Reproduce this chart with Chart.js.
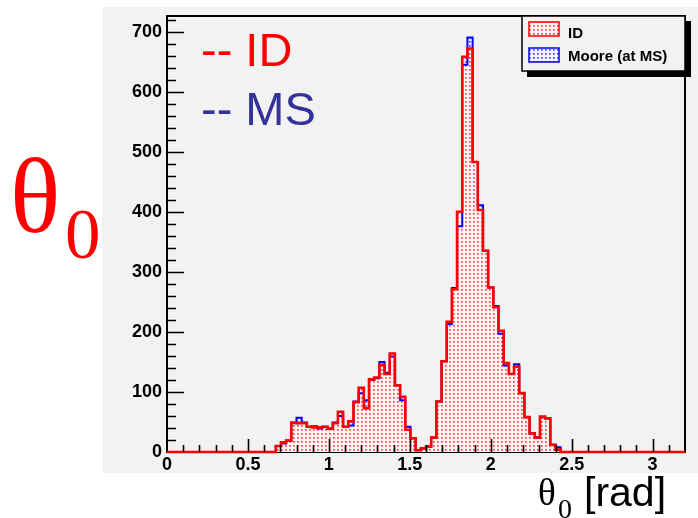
<!DOCTYPE html>
<html>
<head>
<meta charset="utf-8">
<script src="https://cdn.jsdelivr.net/npm/chart.js@4.4.1/dist/chart.umd.min.js"></script>
<style>
body { margin: 0; background: #fff; }
#wrap { position: relative; width: 698px; height: 518px; overflow: hidden; }
#chart { position: absolute; left: 0; top: 0; }
.t { position: absolute; white-space: nowrap; line-height: 1; }
.sans { font-family: "Liberation Sans", Arial, sans-serif; }
.serif { font-family: "Liberation Serif", "Times New Roman", serif; }
</style>
</head>
<body>
<div id="wrap">
<canvas id="chart" width="698" height="518"></canvas>
<div class="t sans" style="left:201px;top:25.7px;font-size:47px;color:#ff0000">-- ID</div>
<div class="t sans" style="left:201px;top:85.2px;font-size:47px;color:#333399">-- MS</div>
<div class="t serif" style="left:10px;top:144px;font-size:105px;color:#ff0000">θ</div>
<div class="t serif" style="left:65px;top:198.5px;font-size:71px;color:#ff0000">0</div>
<div class="t serif" style="left:538px;top:474px;font-size:37px;color:#000">θ</div>
<div class="t serif" style="left:558px;top:495px;font-size:28px;color:#000">0</div>
<div class="t sans" style="left:584px;top:471.5px;font-size:41px;color:#000">[rad]</div>
</div>
<script>
// histogram: 100 bins on [0, 3.2], only the non-empty ones listed
const xRange = [0, 3.2];
const binWidth = 0.032;
const firstEdge = 0.672;
const yMax = 726;

const idCounts = [10, 16, 19, 49, 48, 48, 42, 41, 41, 42, 39, 48, 67, 42, 51,
	83, 107, 73, 121, 124, 145, 130, 164, 111, 92, 37, 23, 3, 6, 9,
	24, 84, 151, 217, 271, 400, 658, 672, 483, 403, 335, 274, 241, 202, 148,
	130, 142, 98, 58, 31, 24, 59, 56, 12, 4];
const msCounts = [10, 14, 19, 48, 57, 49, 42, 43, 39, 42, 39, 49, 60, 42, 44,
	84, 98, 86, 120, 123, 150, 132, 159, 111, 86, 42, 23, 3, 6, 9,
	24, 84, 151, 213, 273, 376, 645, 690, 483, 411, 335, 274, 243, 197, 144,
	130, 146, 98, 58, 31, 24, 58, 56, 12, 8];

const labels = ["ID", "Moore (at MS)"];

function steps(counts)
{
	const pts = [{x: xRange[0], y: 0}];
	counts.forEach((c, i) => pts.push({x: firstEdge + i * binWidth, y: c}));
	pts.push({x: firstEdge + counts.length * binWidth, y: 0});
	pts.push({x: xRange[1], y: 0});
	return pts;
}

const canvas = document.getElementById("chart");
const ctx = canvas.getContext("2d");

// ROOT-like dotted fill: pale background, small soft dot every 4 px
function dots(dot, soft, paper)
{
	const c = document.createElement("canvas");
	c.width = c.height = 4;
	const g = c.getContext("2d");
	g.fillStyle = paper;
	g.fillRect(0, 0, 4, 4);
	g.fillStyle = soft;
	g.fillRect(1, 1, 2, 2);
	g.fillStyle = dot;
	g.fillRect(1, 1, 1, 1);
	return ctx.createPattern(c, "repeat");
}

const redDots = dots("#ff3030", "#ff8c8c", "#fff3f3");
const blueDots = dots("#3030ff", "#8c8cff", "#f3f3ff");

const tickFont = {family: "'Liberation Sans', Arial, sans-serif", size: 18, weight: "bold"};

const frame = {
	id: "frame",
	beforeDraw(chart)
	{
		const c = chart.ctx, a = chart.chartArea;
		c.save();
		c.fillStyle = "#f2f2f2";
		c.fillRect(102, 7, 596, 466);
		c.strokeStyle = "#000";
		c.lineWidth = 2;
		c.strokeRect(a.left, a.top, a.right - a.left, a.bottom - a.top);
		c.restore();
	},
	afterDatasetsDraw(chart)
	{
		const c = chart.ctx, a = chart.chartArea;
		const {x, y} = chart.scales;
		c.save();
		c.strokeStyle = "#000";
		c.lineWidth = 1.6;
		c.beginPath();
		x.ticks.forEach(t => {
			if (t.value <= xRange[0] || t.value >= xRange[1])
				return;
			const px = Math.round(x.getPixelForValue(t.value)) + 0.5;
			const major = Math.abs(t.value * 2 - Math.round(t.value * 2)) < 1e-6;
			c.moveTo(px, a.bottom);
			c.lineTo(px, a.bottom - (major ? 13 : 7));
		});
		for (let v = 20; v < yMax; v += 20)
		{
			const py = Math.round(y.getPixelForValue(v)) + 0.5;
			c.moveTo(a.left, py);
			c.lineTo(a.left + (v % 100 === 0 ? 17 : 9), py);
		}
		c.stroke();
		c.restore();
	},
	afterDraw(chart)
	{
		const c = chart.ctx, a = chart.chartArea;
		const w = 163, h = 55, l = a.right - w, t = a.top;
		c.save();
		c.fillStyle = "#000";
		c.fillRect(l + 5, t + 5, w + 1, h + 1);
		c.fillStyle = "#f2f2f2";
		c.fillRect(l, t, w, h);
		c.strokeStyle = "#000";
		c.lineWidth = 1.5;
		c.strokeRect(l, t, w, h);
		c.font = "bold 15px 'Liberation Sans', Arial, sans-serif";
		c.textBaseline = "alphabetic";
		chart.data.datasets.forEach((ds, i) => {
			const sy = t + 6 + i * 26;
			c.fillStyle = ds.backgroundColor;
			c.fillRect(l + 7, sy, 30, 14);
			c.strokeStyle = ds.borderColor;
			c.lineWidth = 1.5;
			c.strokeRect(l + 7, sy, 30, 14);
			c.fillStyle = "#000";
			c.fillText(ds.label, l + 46, t + 22 + i * 23);
		});
		c.restore();
	}
};

new Chart(canvas, {
	type: "line",
	data: {
		datasets: [
			{label: labels[0], data: steps(idCounts), borderColor: "#ff0000", backgroundColor: redDots, borderWidth: 2.6},
			{label: labels[1], data: steps(msCounts), borderColor: "#0000ff", backgroundColor: blueDots, borderWidth: 2}
		].map(ds => ({...ds, stepped: "before", fill: "origin",
			pointRadius: 0, tension: 0, clip: false}))
	},
	options: {
		responsive: false,
		animation: false,
		events: [],
		layout: {padding: {left: 102, right: 13, top: 16, bottom: 36}},
		plugins: {
			legend: {display: false},
			tooltip: {enabled: false},
			filler: {drawTime: "beforeDatasetsDraw"}
		},
		scales: {
			x: {
				type: "linear",
				min: xRange[0],
				max: xRange[1],
				grid: {display: false, drawTicks: false},
				border: {display: false},
				afterFit: s => { s.height = 30; },
				ticks: {
					stepSize: 0.1,
					autoSkip: false,
					maxRotation: 0,
					padding: 2,
					color: "#000",
					font: tickFont,
					callback: v => Math.abs(v * 2 - Math.round(v * 2)) < 1e-6 ? String(v) : ""
				}
			},
			y: {
				min: 0,
				max: yMax,
				grid: {display: false, drawTicks: false},
				border: {display: false},
				afterFit: s => { s.width = 65; },
				ticks: {
					stepSize: 20,
					includeBounds: false,
					autoSkip: false,
					padding: 5,
					color: "#000",
					font: tickFont,
					callback: v => v % 100 === 0 ? String(v) : ""
				}
			}
		}
	},
	plugins: [frame]
});
</script>
</body>
</html>
